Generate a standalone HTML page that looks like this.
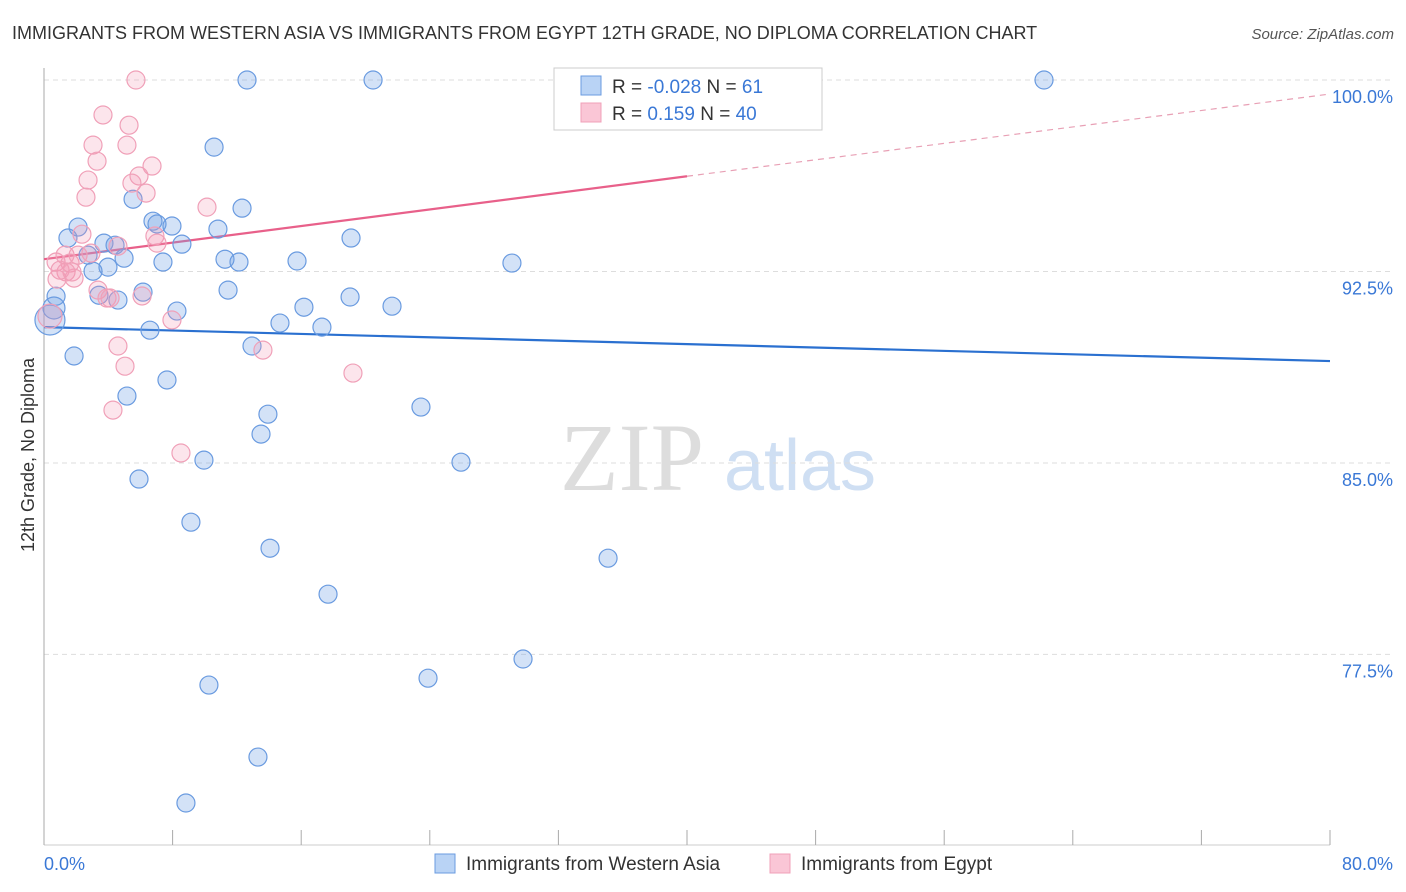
<!DOCTYPE html>
<html><head><meta charset="utf-8">
<style>
body{margin:0;background:#fff;font-family:"Liberation Sans",sans-serif;}
#wrap{position:relative;width:1406px;height:892px;overflow:hidden;}
</style></head>
<body>
<div id="wrap">
<svg id="svg" width="1406" height="892" xmlns="http://www.w3.org/2000/svg">
<text x="12" y="39" font-size="18" fill="#333">IMMIGRANTS FROM WESTERN ASIA VS IMMIGRANTS FROM EGYPT 12TH GRADE, NO DIPLOMA CORRELATION CHART</text>
<text x="1394" y="39" font-size="15" fill="#555" text-anchor="end" font-style="italic">Source: ZipAtlas.com</text>
<text x="34" y="455" font-size="18" fill="#333" text-anchor="middle" transform="rotate(-90 34 455)">12th Grade, No Diploma</text>
<g><text x="632" y="490" font-size="96" fill="#ddd" font-family="Liberation Serif,serif" text-anchor="middle">ZIP</text><text x="800" y="490" font-size="72" fill="#cfdff3" text-anchor="middle">atlas</text></g>
<g id="grid"></g><g id="axes"></g><g id="trend"></g><g id="pts"></g>
<g>
<rect x="554" y="68" width="268" height="62" fill="#fff" stroke="#ccc"/>
<rect x="581" y="76" width="20" height="19" fill="#b9d3f5" stroke="#6a9be0"/>
<rect x="581" y="103" width="20" height="19" fill="#fac6d6" stroke="#f0a0b8"/>
<text x="612" y="93" font-size="19" fill="#333">R = <tspan fill="#3a78d6">-0.028</tspan>   N = <tspan fill="#3a78d6">61</tspan></text>
<text x="612" y="120" font-size="19" fill="#333">R =   <tspan fill="#3a78d6">0.159</tspan>   N = <tspan fill="#3a78d6">40</tspan></text>
</g>
<g>
<rect x="435" y="854" width="20" height="19" fill="#b9d3f5" stroke="#6a9be0"/>
<text x="466" y="870" font-size="19" fill="#333">Immigrants from Western Asia</text>
<rect x="770" y="854" width="20" height="19" fill="#fac6d6" stroke="#f0a0b8"/>
<text x="801" y="870" font-size="19" fill="#333">Immigrants from Egypt</text>
</g>
</svg>
</div>
<script>
const yTicks=[100,92.5,85,77.5];
const yTickLabels=["100.0%","92.5%","85.0%","77.5%"];
const xTicks=[0,8,16,24,32,40,48,56,64,72,80];
const blueX=[12.63,20.47,42.43,62.21,10.58,5.54,12.32,6.78,7.03,7.96,2.12,10.82,19.1,1.49,3.73,4.42,8.58,2.74,4.98,11.26,12.13,7.4,15.74,29.11,3.98,3.05,11.45,6.16,3.42,0.75,4.6,16.17,21.65,19.04,8.27,14.68,17.29,6.59,12.94,1.87,7.65,5.16,23.45,13.93,13.5,9.95,25.94,5.91,9.14,14.06,35.09,17.67,29.8,23.89,10.26,13.31,8.83,0.37,0.62];
const blueY=[100,100,100,100,97.37,95.33,94.98,94.47,94.36,94.28,94.24,94.16,93.81,93.81,93.61,93.53,93.57,93.14,93.02,92.98,92.87,92.87,92.91,92.83,92.67,92.51,91.77,91.69,91.57,91.53,91.38,91.1,91.14,91.5,90.95,90.48,90.32,90.2,89.58,89.19,88.25,87.62,87.19,86.91,86.13,85.11,85.03,84.37,82.68,81.66,81.27,79.86,77.32,76.57,76.3,73.48,71.68,90.6,91.07];
const pinkX=[5.72,3.67,5.29,3.05,5.16,3.3,6.72,2.74,5.91,5.47,6.35,2.61,10.14,6.9,2.36,7.03,4.6,2.92,0.75,1.62,1.37,1.87,0.81,3.36,6.1,3.92,7.96,0.37,4.6,5.04,13.62,19.22,4.29,8.52,1.31,2.12,1.0,4.11,1.74];
const pinkY=[100,98.63,98.23,97.45,97.45,96.82,96.63,96.08,96.24,95.96,95.57,95.41,95.02,93.89,93.96,93.61,93.49,93.22,92.87,92.83,92.48,92.24,92.2,91.77,91.54,91.46,90.6,90.75,89.58,88.79,89.42,88.52,87.07,85.39,93.14,93.14,92.55,91.46,92.48];
const blueTrend=[90.32,88.99];
const pinkTrend=[92.98,96.23,99.45];
const NS="http://www.w3.org/2000/svg";
const xs=v=>44+v*1286/80, ys=v=>80+(100-v)*25.53;
function mk(t,a,p){const e=document.createElementNS(NS,t);for(const k in a)e.setAttribute(k,a[k]);p.appendChild(e);return e;}
const grid=document.getElementById('grid'),axes=document.getElementById('axes'),tr=document.getElementById('trend'),pts=document.getElementById('pts');
yTicks.forEach((v,i)=>{
 const l=mk('line',{x1:44,x2:1394,y1:ys(v),y2:ys(v),stroke:'#ddd','stroke-dasharray':'5,4'},grid);
 
 
 const t=mk('text',{x:1393,y:ys(v)+23,'font-size':18,fill:'#3a78d6','text-anchor':'end'},axes);
 t.textContent=yTickLabels[i];
 
 
});
const ya=mk('line',{x1:44,x2:44,y1:68,y2:845,stroke:'#aaa'},axes);


const xa=mk('line',{x1:44,x2:1330,y1:845,y2:845,stroke:'#ccc'},axes);


xTicks.forEach(v=>{const l=mk('line',{x1:xs(v),x2:xs(v),y1:830,y2:845,stroke:'#aaa'},axes);
 
 });
const x0=mk('text',{x:44,y:870,'font-size':18,fill:'#3a78d6'},axes);x0.textContent='0.0%';


const x1=mk('text',{x:1393,y:870,'font-size':18,fill:'#3a78d6','text-anchor':'end'},axes);x1.textContent='80.0%';


blueX.forEach((x,i)=>{const c=mk('circle',{cx:xs(x),cy:ys(blueY[i]),r:i>=57?(i==57?15:11):9,fill:'rgba(110,160,230,0.3)',stroke:'#6a9be0','stroke-width':1.2},pts);
 
 });
pinkX.forEach((x,i)=>{const c=mk('circle',{cx:xs(x),cy:ys(pinkY[i]),r:i==27?12:9,fill:'rgba(245,150,180,0.25)',stroke:'#f0a0b8','stroke-width':1.2},pts);
 
 });
const bl=mk('line',{x1:xs(0),y1:ys(blueTrend[0]),x2:xs(80),y2:ys(blueTrend[1]),stroke:'#2a70d0','stroke-width':2.2},tr);


const pl=mk('line',{x1:xs(0),y1:ys(pinkTrend[0]),x2:xs(40),y2:ys(pinkTrend[1]),stroke:'#e8608a','stroke-width':2.2},tr);


const pd=mk('line',{x1:xs(40),y1:ys(pinkTrend[1]),x2:xs(80),y2:ys(pinkTrend[2]),stroke:'#e8a0b5','stroke-width':1.2,'stroke-dasharray':'6,5'},tr);


</script>
</body></html>
